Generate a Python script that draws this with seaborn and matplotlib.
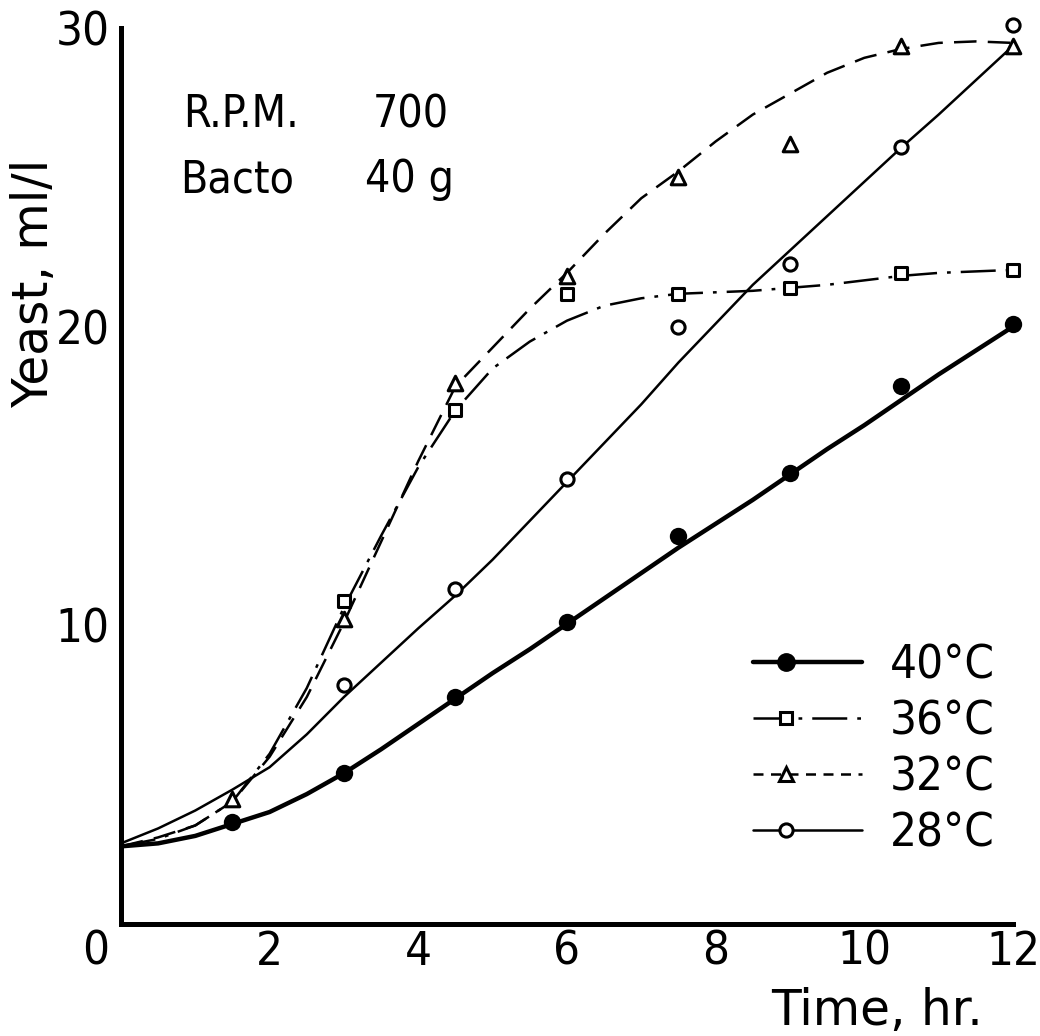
import numpy as np
import pandas as pd
import matplotlib
matplotlib.use("Agg")
import matplotlib.pyplot as plt
import seaborn as sns
from matplotlib.lines import Line2D
from matplotlib.legend_handler import HandlerLine2D
from matplotlib.transforms import ScaledTranslation

# ---------------- data ----------------
time_pts = [1.5, 3, 4.5, 6, 7.5, 9, 10.5, 12]
yeast_40 = [3.4, 5.05, 7.6, 10.1, 13.0, 15.1, 18.0, 20.1]
time_36 = [3, 4.5, 6, 7.5, 9, 10.5, 12]
yeast_36 = [10.8, 17.2, 21.1, 21.1, 21.3, 21.8, 21.9]
time_32 = [1.5, 3, 4.5, 6, 7.5, 9, 10.5, 12]
yeast_32 = [4.2, 10.2, 18.1, 21.7, 25.0, 26.1, 29.4, 29.4]
time_28 = [3, 4.5, 6, 7.5, 9, 10.5, 12]
yeast_28 = [8.0, 11.2, 14.9, 20.0, 22.1, 26.0, 30.1]

# fitted curves as drawn in the reference
curve_x = [0, 0.5, 1, 1.5, 2, 2.5, 3, 3.5, 4, 4.5, 5, 5.5, 6, 6.5, 7, 7.5,
           8, 8.5, 9, 9.5, 10, 10.5, 11, 11.5, 12]
curve_40 = [2.6, 2.7, 2.95, 3.35, 3.75, 4.35, 5.05, 5.85, 6.7, 7.55, 8.4, 9.2,
            10.05, 10.9, 11.75, 12.6, 13.4, 14.2, 15.05, 15.9, 16.7, 17.55,
            18.4, 19.2, 20.0]
curve_36 = [2.6, 2.85, 3.3, 4.1, 5.7, 7.9, 10.6, 13.0, 15.3, 17.2, 18.6, 19.5,
            20.2, 20.7, 20.95, 21.1, 21.15, 21.2, 21.3, 21.4, 21.55, 21.7,
            21.8, 21.85, 21.9]
curve_32 = [2.6, 2.9, 3.3, 4.1, 5.6, 7.6, 10.1, 12.8, 15.5, 18.0, 19.3, 20.6,
            21.8, 23.1, 24.3, 25.2, 26.2, 27.1, 27.8, 28.5, 29.0, 29.3, 29.5,
            29.55, 29.5]
curve_28 = [2.7, 3.2, 3.8, 4.5, 5.25, 6.35, 7.6, 8.75, 9.9, 11.0, 12.2, 13.5,
            14.8, 16.1, 17.4, 18.8, 20.1, 21.4, 22.55, 23.7, 24.85, 26.0, 27.1,
            28.25, 29.4]

series_labels = ["40°C", "36°C", "32°C", "28°C"]
x_ticks = [0, 2, 4, 6, 8, 10, 12]
y_ticks = [10, 20, 30]

# ---------------- style ----------------
sns.set_style("white")
plt.rcParams["font.family"] = ["DejaVu Sans"]
plt.rcParams["font.stretch"] = "condensed"
plt.rcParams["text.color"] = "black"
plt.rcParams["axes.labelcolor"] = "black"
plt.rcParams["xtick.color"] = "black"
plt.rcParams["ytick.color"] = "black"

fig = plt.figure(figsize=(10.4, 10.36), dpi=100)
ax = fig.add_axes([0.1163, 0.1081, 0.8577, 0.8649])

thin = 1.8
thick = 3.2
ls_36 = (0, (14, 4, 1.5, 4))
ls_32 = (0, (9, 4.5))

curves = pd.DataFrame({"t": curve_x, "c40": curve_40, "c36": curve_36,
                       "c32": curve_32, "c28": curve_28})

sns.lineplot(data=curves, x="t", y="c40", ax=ax, color="black", lw=thick,
             solid_capstyle="round", zorder=2)
sns.lineplot(data=curves, x="t", y="c28", ax=ax, color="black", lw=thin,
             zorder=2)
sns.lineplot(data=curves, x="t", y="c36", ax=ax, color="black", lw=thin,
             linestyle=ls_36, zorder=2)
sns.lineplot(data=curves, x="t", y="c32", ax=ax, color="black", lw=thin,
             linestyle=ls_32, zorder=2)

sns.scatterplot(x=time_pts, y=yeast_40, ax=ax, marker="o", s=12.5 ** 2,
                color="black", edgecolor="black", linewidth=0, zorder=4,
                clip_on=False)
sns.scatterplot(x=time_36, y=yeast_36, ax=ax, marker="s", s=9 ** 2,
                facecolor="white", edgecolor="black", linewidth=2.2, zorder=4,
                clip_on=False)
sns.scatterplot(x=time_32, y=yeast_32, ax=ax, marker="^", s=10.5 ** 2,
                facecolor="white", edgecolor="black", linewidth=2.2, zorder=4,
                clip_on=False)
sns.scatterplot(x=time_28, y=yeast_28, ax=ax, marker="o", s=9.5 ** 2,
                facecolor="white", edgecolor="black", linewidth=2.2, zorder=4,
                clip_on=False)

# ---------------- axes ----------------
ax.set_xlim(0, 12)
ax.set_ylim(0, 30)
ax.set_xticks(x_ticks)
ax.set_yticks(y_ticks)
ax.set_xticklabels([str(v) for v in x_ticks])
ax.set_yticklabels([str(v) for v in y_ticks])
for s in ["top", "right"]:
    ax.spines[s].set_visible(False)
for s in ["left", "bottom"]:
    ax.spines[s].set_linewidth(3.6)
    ax.spines[s].set_color("black")
ax.tick_params(axis="both", direction="in", length=7, width=2.2,
               labelsize=34, colors="black")
ax.tick_params(axis="x", pad=4)
ax.tick_params(axis="y", pad=8)
# shared origin label sits left of the corner
lab0 = ax.get_xticklabels()[0]
lab0.set_transform(lab0.get_transform() +
                   ScaledTranslation(-25 / 100, 0, fig.dpi_scale_trans))

ax.set_xlabel("Time, hr.", fontsize=35, fontstretch="normal")
ax.xaxis.set_label_coords(0.848, -0.070)
ax.set_ylabel("Yeast, ml/l", fontsize=35, fontstretch="normal")
ax.yaxis.set_label_coords(-0.070, 0.715)

# annotation text
ax.text(0.834, 26.68, "R.P.M.", fontsize=32, va="baseline", ha="left")
ax.text(3.39, 26.68, "700", fontsize=32, va="baseline", ha="left")
ax.text(0.79, 24.5, "Bacto", fontsize=32, va="baseline", ha="left")
ax.text(3.28, 24.5, "40 g", fontsize=32, va="baseline", ha="left")


# ---------------- legend ----------------
class MarkerLeftHandler(HandlerLine2D):
    def create_artists(self, legend, orig_handle, xdescent, ydescent,
                       width, height, fontsize, trans):
        arts = super().create_artists(legend, orig_handle, xdescent, ydescent,
                                      width, height, fontsize, trans)
        x0 = -xdescent
        arts[0].set_xdata([x0, x0 + 0.3 * width, x0 + width])
        return arts


handles = [
    Line2D([], [], color="black", lw=thick, marker="o", ms=12.5,
           mfc="black", mec="black"),
    Line2D([], [], color="black", lw=thin, linestyle=ls_36, marker="s", ms=9,
           mfc="white", mec="black", mew=2.2),
    Line2D([], [], color="black", lw=thin, linestyle=(0, (4, 3)), marker="^",
           ms=10.5, mfc="white", mec="black", mew=2.2),
    Line2D([], [], color="black", lw=thin, marker="o", ms=9.5,
           mfc="white", mec="black", mew=2.2),
]
ax.legend(handles, series_labels, loc="upper left",
          bbox_to_anchor=(0.7085, 0.313), frameon=False, fontsize=34,
          handlelength=2.3, handletextpad=0.6, labelspacing=0.23,
          borderpad=0, borderaxespad=0, numpoints=1,
          handler_map={Line2D: MarkerLeftHandler(numpoints=1)})

fig.savefig("out.png", dpi=100, facecolor="white")
